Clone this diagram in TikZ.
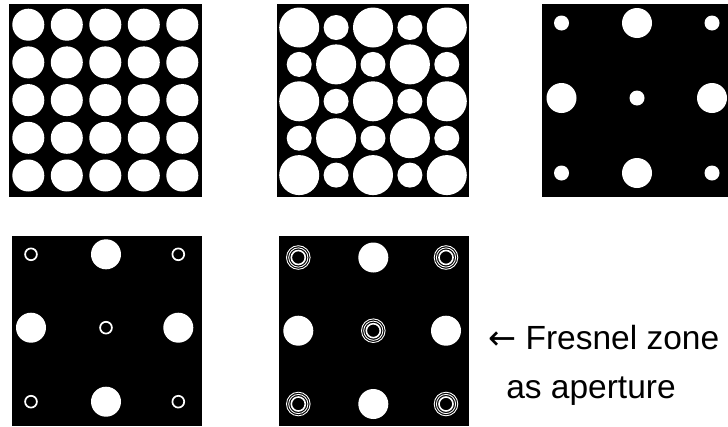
\documentclass[tikz,border=0pt]{standalone}
\usepackage{fontspec}
\setmainfont{Liberation Sans}
\newfontfamily\arrowfont{DejaVu Sans}
\begin{document}
\begin{tikzpicture}[x=1pt,y=1pt,yscale=-1,
    hole/.style={fill=white},
    ring/.style={draw=white,line width=1.5pt},
    label/.style={inner sep=0pt,font=\fontsize{33.5}{40}\selectfont}]
  \useasboundingbox (0,0) rectangle (728,426);
  % top row: 5x5 grid, alternating grid, 3x3 grid
  \fill (9,4) rectangle (202,197);
  \foreach \i in {0,...,4}
    \foreach \j in {0,...,4}
      \fill[hole] (28.3+38.5*\i,24.7+37.7*\j) circle (16pt);
  \fill (277,4) rectangle (469,197);
  \foreach \i in {0,...,4}
    \foreach \j in {0,...,4}{
      \pgfmathtruncatemacro{\odd}{mod(\i+\j,2)}
      \ifnum\odd=0
        \fill[hole] (299.2+36.9*\i,27.5+36.9*\j) circle (20pt);
      \else
        \fill[hole] (299.2+36.9*\i,27.5+36.9*\j) circle (12.5pt);
      \fi}
  \fill (542,4) rectangle (735,197);
  \foreach \x/\y/\r in {561.5/23/7.5, 637/23/15, 712/23/7.5,
                        561.5/98/15, 637/98/7.5, 712/98/15,
                        561.5/173/7.5, 637/173/15, 712/173/7.5}
    \fill[hole] (\x,\y) circle (\r pt);
  % bottom row: rings in place of the small holes
  \fill (11.7,235.7) rectangle (201.7,426);
  \foreach \x/\y in {106/254.3, 31/327.7, 178.3/327.7, 106/401.7}
    \fill[hole] (\x,\y) circle (15pt);
  \foreach \x/\y in {31/254.3, 178.3/254.3, 106/327.7, 31/401.7, 178.3/401.7}
    \draw[ring,line width=1.7pt] (\x,\y) circle (5.9pt);
  \fill (279,235.7) rectangle (469,426);
  \foreach \x/\y in {373.3/257.5, 298.3/330.7, 446/330.7, 373.3/404}
    \fill[hole] (\x,\y) circle (15pt);
  \foreach \x/\y in {298.3/257.5, 446/257.5, 373.3/330.7, 298.3/404, 446/404}{
    \draw[ring,line width=1.6pt] (\x,\y) circle (7pt);
    \draw[ring,line width=0.9pt] (\x,\y) circle (9.6pt);
    \draw[ring,line width=0.9pt] (\x,\y) circle (11.8pt);}
  \node[label,anchor=base west] (fresnel) at (488,349) {{\arrowfont ←} Fresnel zone};
  \node[label,anchor=base] (aperture) at (591,398) {as aperture};
\end{tikzpicture}
\end{document}
